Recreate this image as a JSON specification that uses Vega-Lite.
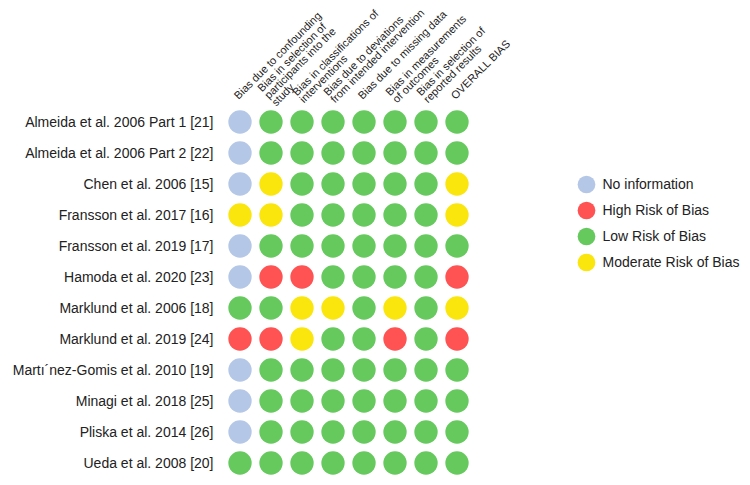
{
  "$schema": "https://vega.github.io/schema/vega-lite/v6.json",
  "width": 248,
  "height": 372,
  "autosize": {"type": "none"},
  "padding": {"left": 224.5, "top": 106.5, "right": 277.5, "bottom": 6.5},
  "background": "white",
  "config": {"view": {"stroke": null}, "font": "Liberation Sans"},
  "data": {"values": [
    {"study": "Almeida et al. 2006 Part 1 [21]", "domain": "Bias due to confounding", "risk": "No information"},
    {"study": "Almeida et al. 2006 Part 1 [21]", "domain": "Bias in selection of|participants into the|study", "risk": "Low Risk of Bias"},
    {"study": "Almeida et al. 2006 Part 1 [21]", "domain": "Bias in classifications of|interventions", "risk": "Low Risk of Bias"},
    {"study": "Almeida et al. 2006 Part 1 [21]", "domain": "Bias due to deviations|from intended intervention", "risk": "Low Risk of Bias"},
    {"study": "Almeida et al. 2006 Part 1 [21]", "domain": "Bias due to missing data", "risk": "Low Risk of Bias"},
    {"study": "Almeida et al. 2006 Part 1 [21]", "domain": "Bias in measurements|of outcomes", "risk": "Low Risk of Bias"},
    {"study": "Almeida et al. 2006 Part 1 [21]", "domain": "Bias in selection of|reported results", "risk": "Low Risk of Bias"},
    {"study": "Almeida et al. 2006 Part 1 [21]", "domain": "OVERALL BIAS", "risk": "Low Risk of Bias"},

    {"study": "Almeida et al. 2006 Part 2 [22]", "domain": "Bias due to confounding", "risk": "No information"},
    {"study": "Almeida et al. 2006 Part 2 [22]", "domain": "Bias in selection of|participants into the|study", "risk": "Low Risk of Bias"},
    {"study": "Almeida et al. 2006 Part 2 [22]", "domain": "Bias in classifications of|interventions", "risk": "Low Risk of Bias"},
    {"study": "Almeida et al. 2006 Part 2 [22]", "domain": "Bias due to deviations|from intended intervention", "risk": "Low Risk of Bias"},
    {"study": "Almeida et al. 2006 Part 2 [22]", "domain": "Bias due to missing data", "risk": "Low Risk of Bias"},
    {"study": "Almeida et al. 2006 Part 2 [22]", "domain": "Bias in measurements|of outcomes", "risk": "Low Risk of Bias"},
    {"study": "Almeida et al. 2006 Part 2 [22]", "domain": "Bias in selection of|reported results", "risk": "Low Risk of Bias"},
    {"study": "Almeida et al. 2006 Part 2 [22]", "domain": "OVERALL BIAS", "risk": "Low Risk of Bias"},

    {"study": "Chen et al. 2006 [15]", "domain": "Bias due to confounding", "risk": "No information"},
    {"study": "Chen et al. 2006 [15]", "domain": "Bias in selection of|participants into the|study", "risk": "Moderate Risk of Bias"},
    {"study": "Chen et al. 2006 [15]", "domain": "Bias in classifications of|interventions", "risk": "Low Risk of Bias"},
    {"study": "Chen et al. 2006 [15]", "domain": "Bias due to deviations|from intended intervention", "risk": "Low Risk of Bias"},
    {"study": "Chen et al. 2006 [15]", "domain": "Bias due to missing data", "risk": "Low Risk of Bias"},
    {"study": "Chen et al. 2006 [15]", "domain": "Bias in measurements|of outcomes", "risk": "Low Risk of Bias"},
    {"study": "Chen et al. 2006 [15]", "domain": "Bias in selection of|reported results", "risk": "Low Risk of Bias"},
    {"study": "Chen et al. 2006 [15]", "domain": "OVERALL BIAS", "risk": "Moderate Risk of Bias"},

    {"study": "Fransson et al. 2017 [16]", "domain": "Bias due to confounding", "risk": "Moderate Risk of Bias"},
    {"study": "Fransson et al. 2017 [16]", "domain": "Bias in selection of|participants into the|study", "risk": "Moderate Risk of Bias"},
    {"study": "Fransson et al. 2017 [16]", "domain": "Bias in classifications of|interventions", "risk": "Low Risk of Bias"},
    {"study": "Fransson et al. 2017 [16]", "domain": "Bias due to deviations|from intended intervention", "risk": "Low Risk of Bias"},
    {"study": "Fransson et al. 2017 [16]", "domain": "Bias due to missing data", "risk": "Low Risk of Bias"},
    {"study": "Fransson et al. 2017 [16]", "domain": "Bias in measurements|of outcomes", "risk": "Low Risk of Bias"},
    {"study": "Fransson et al. 2017 [16]", "domain": "Bias in selection of|reported results", "risk": "Low Risk of Bias"},
    {"study": "Fransson et al. 2017 [16]", "domain": "OVERALL BIAS", "risk": "Moderate Risk of Bias"},

    {"study": "Fransson et al. 2019 [17]", "domain": "Bias due to confounding", "risk": "No information"},
    {"study": "Fransson et al. 2019 [17]", "domain": "Bias in selection of|participants into the|study", "risk": "Low Risk of Bias"},
    {"study": "Fransson et al. 2019 [17]", "domain": "Bias in classifications of|interventions", "risk": "Low Risk of Bias"},
    {"study": "Fransson et al. 2019 [17]", "domain": "Bias due to deviations|from intended intervention", "risk": "Low Risk of Bias"},
    {"study": "Fransson et al. 2019 [17]", "domain": "Bias due to missing data", "risk": "Low Risk of Bias"},
    {"study": "Fransson et al. 2019 [17]", "domain": "Bias in measurements|of outcomes", "risk": "Low Risk of Bias"},
    {"study": "Fransson et al. 2019 [17]", "domain": "Bias in selection of|reported results", "risk": "Low Risk of Bias"},
    {"study": "Fransson et al. 2019 [17]", "domain": "OVERALL BIAS", "risk": "Low Risk of Bias"},

    {"study": "Hamoda et al. 2020 [23]", "domain": "Bias due to confounding", "risk": "No information"},
    {"study": "Hamoda et al. 2020 [23]", "domain": "Bias in selection of|participants into the|study", "risk": "High Risk of Bias"},
    {"study": "Hamoda et al. 2020 [23]", "domain": "Bias in classifications of|interventions", "risk": "High Risk of Bias"},
    {"study": "Hamoda et al. 2020 [23]", "domain": "Bias due to deviations|from intended intervention", "risk": "Low Risk of Bias"},
    {"study": "Hamoda et al. 2020 [23]", "domain": "Bias due to missing data", "risk": "Low Risk of Bias"},
    {"study": "Hamoda et al. 2020 [23]", "domain": "Bias in measurements|of outcomes", "risk": "Low Risk of Bias"},
    {"study": "Hamoda et al. 2020 [23]", "domain": "Bias in selection of|reported results", "risk": "Low Risk of Bias"},
    {"study": "Hamoda et al. 2020 [23]", "domain": "OVERALL BIAS", "risk": "High Risk of Bias"},

    {"study": "Marklund et al. 2006 [18]", "domain": "Bias due to confounding", "risk": "Low Risk of Bias"},
    {"study": "Marklund et al. 2006 [18]", "domain": "Bias in selection of|participants into the|study", "risk": "Low Risk of Bias"},
    {"study": "Marklund et al. 2006 [18]", "domain": "Bias in classifications of|interventions", "risk": "Moderate Risk of Bias"},
    {"study": "Marklund et al. 2006 [18]", "domain": "Bias due to deviations|from intended intervention", "risk": "Moderate Risk of Bias"},
    {"study": "Marklund et al. 2006 [18]", "domain": "Bias due to missing data", "risk": "Low Risk of Bias"},
    {"study": "Marklund et al. 2006 [18]", "domain": "Bias in measurements|of outcomes", "risk": "Moderate Risk of Bias"},
    {"study": "Marklund et al. 2006 [18]", "domain": "Bias in selection of|reported results", "risk": "Low Risk of Bias"},
    {"study": "Marklund et al. 2006 [18]", "domain": "OVERALL BIAS", "risk": "Moderate Risk of Bias"},

    {"study": "Marklund et al. 2019 [24]", "domain": "Bias due to confounding", "risk": "High Risk of Bias"},
    {"study": "Marklund et al. 2019 [24]", "domain": "Bias in selection of|participants into the|study", "risk": "High Risk of Bias"},
    {"study": "Marklund et al. 2019 [24]", "domain": "Bias in classifications of|interventions", "risk": "Moderate Risk of Bias"},
    {"study": "Marklund et al. 2019 [24]", "domain": "Bias due to deviations|from intended intervention", "risk": "Low Risk of Bias"},
    {"study": "Marklund et al. 2019 [24]", "domain": "Bias due to missing data", "risk": "Low Risk of Bias"},
    {"study": "Marklund et al. 2019 [24]", "domain": "Bias in measurements|of outcomes", "risk": "High Risk of Bias"},
    {"study": "Marklund et al. 2019 [24]", "domain": "Bias in selection of|reported results", "risk": "Low Risk of Bias"},
    {"study": "Marklund et al. 2019 [24]", "domain": "OVERALL BIAS", "risk": "High Risk of Bias"},

    {"study": "Martı´nez-Gomis et al. 2010 [19]", "domain": "Bias due to confounding", "risk": "No information"},
    {"study": "Martı´nez-Gomis et al. 2010 [19]", "domain": "Bias in selection of|participants into the|study", "risk": "Low Risk of Bias"},
    {"study": "Martı´nez-Gomis et al. 2010 [19]", "domain": "Bias in classifications of|interventions", "risk": "Low Risk of Bias"},
    {"study": "Martı´nez-Gomis et al. 2010 [19]", "domain": "Bias due to deviations|from intended intervention", "risk": "Low Risk of Bias"},
    {"study": "Martı´nez-Gomis et al. 2010 [19]", "domain": "Bias due to missing data", "risk": "Low Risk of Bias"},
    {"study": "Martı´nez-Gomis et al. 2010 [19]", "domain": "Bias in measurements|of outcomes", "risk": "Low Risk of Bias"},
    {"study": "Martı´nez-Gomis et al. 2010 [19]", "domain": "Bias in selection of|reported results", "risk": "Low Risk of Bias"},
    {"study": "Martı´nez-Gomis et al. 2010 [19]", "domain": "OVERALL BIAS", "risk": "Low Risk of Bias"},

    {"study": "Minagi et al. 2018 [25]", "domain": "Bias due to confounding", "risk": "No information"},
    {"study": "Minagi et al. 2018 [25]", "domain": "Bias in selection of|participants into the|study", "risk": "Low Risk of Bias"},
    {"study": "Minagi et al. 2018 [25]", "domain": "Bias in classifications of|interventions", "risk": "Low Risk of Bias"},
    {"study": "Minagi et al. 2018 [25]", "domain": "Bias due to deviations|from intended intervention", "risk": "Low Risk of Bias"},
    {"study": "Minagi et al. 2018 [25]", "domain": "Bias due to missing data", "risk": "Low Risk of Bias"},
    {"study": "Minagi et al. 2018 [25]", "domain": "Bias in measurements|of outcomes", "risk": "Low Risk of Bias"},
    {"study": "Minagi et al. 2018 [25]", "domain": "Bias in selection of|reported results", "risk": "Low Risk of Bias"},
    {"study": "Minagi et al. 2018 [25]", "domain": "OVERALL BIAS", "risk": "Low Risk of Bias"},

    {"study": "Pliska et al. 2014 [26]", "domain": "Bias due to confounding", "risk": "No information"},
    {"study": "Pliska et al. 2014 [26]", "domain": "Bias in selection of|participants into the|study", "risk": "Low Risk of Bias"},
    {"study": "Pliska et al. 2014 [26]", "domain": "Bias in classifications of|interventions", "risk": "Low Risk of Bias"},
    {"study": "Pliska et al. 2014 [26]", "domain": "Bias due to deviations|from intended intervention", "risk": "Low Risk of Bias"},
    {"study": "Pliska et al. 2014 [26]", "domain": "Bias due to missing data", "risk": "Low Risk of Bias"},
    {"study": "Pliska et al. 2014 [26]", "domain": "Bias in measurements|of outcomes", "risk": "Low Risk of Bias"},
    {"study": "Pliska et al. 2014 [26]", "domain": "Bias in selection of|reported results", "risk": "Low Risk of Bias"},
    {"study": "Pliska et al. 2014 [26]", "domain": "OVERALL BIAS", "risk": "Low Risk of Bias"},

    {"study": "Ueda et al. 2008 [20]", "domain": "Bias due to confounding", "risk": "Low Risk of Bias"},
    {"study": "Ueda et al. 2008 [20]", "domain": "Bias in selection of|participants into the|study", "risk": "Low Risk of Bias"},
    {"study": "Ueda et al. 2008 [20]", "domain": "Bias in classifications of|interventions", "risk": "Low Risk of Bias"},
    {"study": "Ueda et al. 2008 [20]", "domain": "Bias due to deviations|from intended intervention", "risk": "Low Risk of Bias"},
    {"study": "Ueda et al. 2008 [20]", "domain": "Bias due to missing data", "risk": "Low Risk of Bias"},
    {"study": "Ueda et al. 2008 [20]", "domain": "Bias in measurements|of outcomes", "risk": "Low Risk of Bias"},
    {"study": "Ueda et al. 2008 [20]", "domain": "Bias in selection of|reported results", "risk": "Low Risk of Bias"},
    {"study": "Ueda et al. 2008 [20]", "domain": "OVERALL BIAS", "risk": "Low Risk of Bias"}
  ]},
  "mark": {"type": "circle", "opacity": 1, "size": 545},
  "encoding": {
    "x": {
      "field": "domain", "type": "nominal", "sort": null, "title": null,
      "scale": {"paddingInner": 0, "paddingOuter": 0},
      "axis": {
        "orient": "top", "domain": false, "ticks": false, "labelAngle": -45,
        "labelAlign": "left", "labelBaseline": "alphabetic",
        "labelPadding": {"condition": [
          {"test": "length(split(datum.label, '|')) == 3", "value": 14.5},
          {"test": "length(split(datum.label, '|')) == 2", "value": 10.5}
        ], "value": 7},
        "labelOffset": {"condition": [
          {"test": "length(split(datum.label, '|')) == 3", "value": -9.5},
          {"test": "length(split(datum.label, '|')) == 2", "value": -5.5}
        ], "value": -2},
        "labelFontSize": 11, "labelLineHeight": 10, "labelColor": "#222222",
        "labelFont": "Liberation Sans", "labelLimit": 0,
        "labelExpr": "split(datum.label, '|')"
      }
    },
    "y": {
      "field": "study", "type": "nominal", "sort": null, "title": null,
      "scale": {"paddingInner": 0, "paddingOuter": 0},
      "axis": {
        "domain": false, "ticks": false, "labelPadding": 11.5,
        "labelFontSize": 14, "labelColor": "#222222", "labelFont": "Liberation Sans", "labelLimit": 0
      }
    },
    "color": {
      "field": "risk", "type": "nominal", "title": null,
      "scale": {
        "domain": ["No information", "High Risk of Bias", "Low Risk of Bias", "Moderate Risk of Bias"],
        "range": ["#b4c7e7", "#ff5252", "#66c95e", "#fae50c"]
      },
      "legend": {
        "orient": "none", "legendX": 352, "legendY": 68,
        "symbolType": "circle", "symbolSize": 314, "symbolOpacity": 1,
        "labelFontSize": 14, "labelFont": "Liberation Sans", "labelColor": "#222222",
        "labelOffset": 6, "rowPadding": 7, "labelLimit": 0
      }
    }
  }
}
